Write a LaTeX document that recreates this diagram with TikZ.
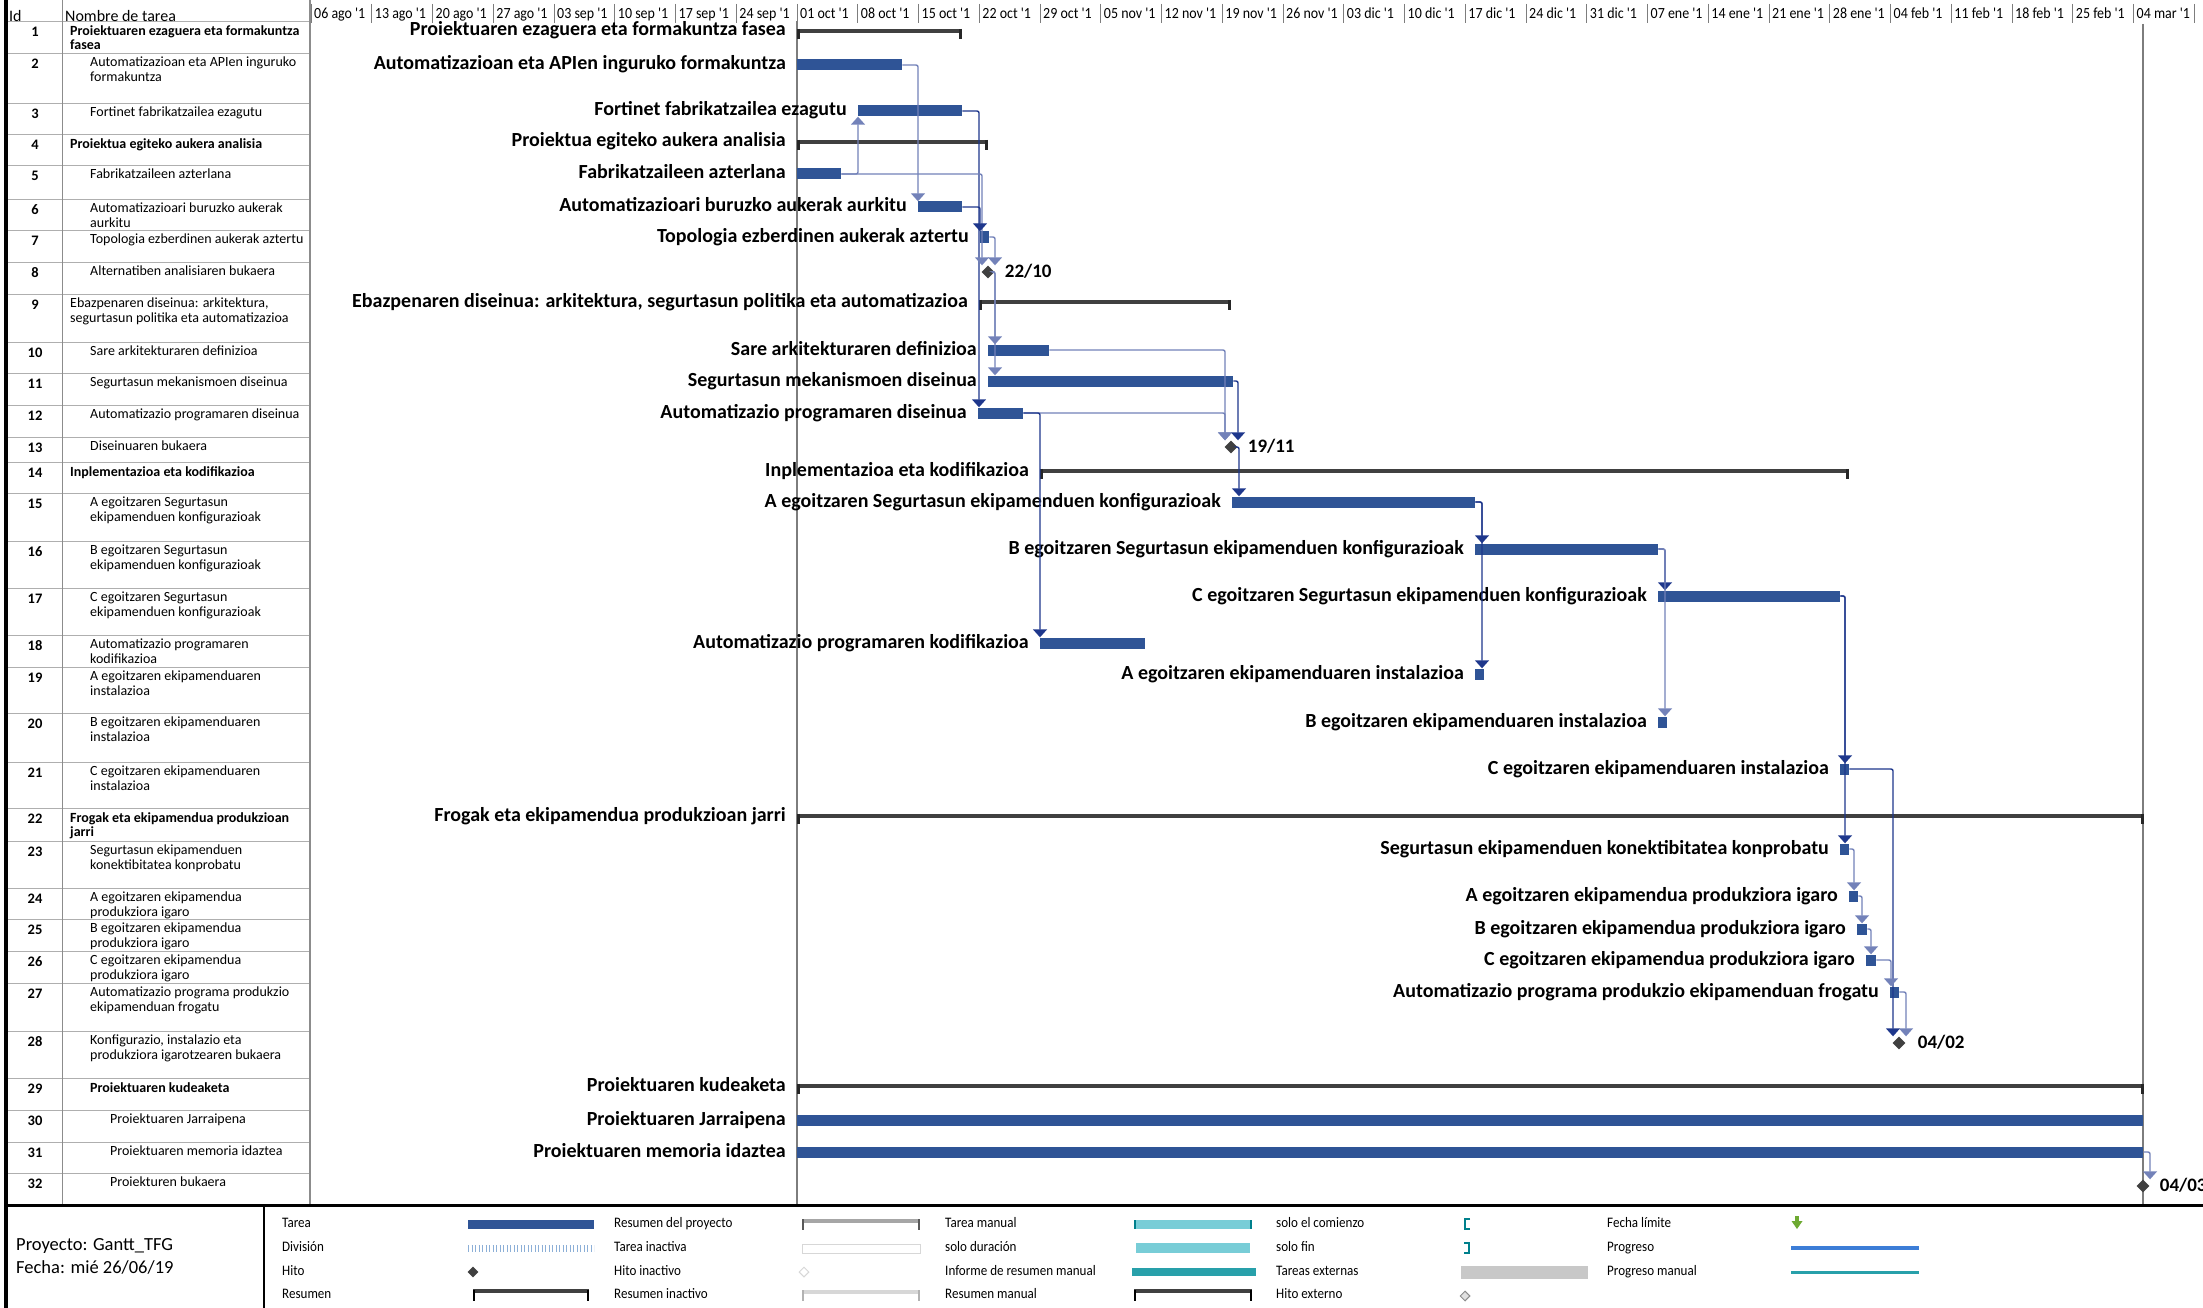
\documentclass[tikz,border=0pt]{standalone}
\usepackage{fontspec}
\setmainfont{Carlito}
\newfontfamily\narrowfont[FakeStretch=0.9]{Carlito}
\usetikzlibrary{shapes.geometric,arrows.meta}

\definecolor{taskblue}{RGB}{47,84,150}
\definecolor{linkdark}{RGB}{30,55,140}
\definecolor{linklight}{RGB}{115,130,185}
\definecolor{summgray}{RGB}{64,64,64}
\definecolor{gridgray}{RGB}{175,175,175}
\definecolor{linegray}{RGB}{125,125,125}
\definecolor{divblue}{RGB}{140,175,215}
\definecolor{lightteal}{RGB}{120,205,215}
\definecolor{darkteal}{RGB}{0,128,140}
\definecolor{midteal}{RGB}{40,160,170}
\definecolor{extgray}{RGB}{200,200,200}
\definecolor{inactgray}{RGB}{215,215,215}
\definecolor{deadgreen}{RGB}{110,170,50}
\definecolor{progblue}{RGB}{60,125,215}

% task bar: name, start x, end x, centre y
\newcommand\taskbar[4]{\node[bar, minimum width={#3-#2}] (#1) at (#2,#4) {};}
% summary bracket: name, start x, end x, centre y
\newcommand\summbar[4]{%
  \node[summ, minimum width={#3-#2}] (#1) at (#2,#4) {};
  \draw[summtick] (#1.north west) ++(1.5,0) -- ++(0,10);
  \draw[summtick] (#1.north east) ++(-1.5,0) -- ++(0,10);}
% bar caption: row, bar start x, centre y, text
\newcommand\glabel[4]{\node[lbl] (l#1) at (#2-11,#3) {#4};}
% table row: id, top y, indent x, extra style, text
\newcommand\trow[5]{%
  \node[idtxt] (n#1) at (35,#2+11) {#1};
  \node[rowtxt,#4] (t#1) at (#3,#2+4) {#5};}

\begin{document}
\begin{tikzpicture}[x=1pt,y=-1pt,
  bar/.style={fill=taskblue, draw=none, inner sep=0pt, minimum height=11pt, anchor=west},
  summ/.style={fill=summgray, draw=none, inner sep=0pt, minimum height=4pt, anchor=west},
  summtick/.style={draw=black!85, line width=3pt},
  mile/.style={diamond, fill=summgray, draw=none, inner sep=0pt, minimum size=13pt},
  lbl/.style={font=\bfseries\fontsize{20}{22}\selectfont, anchor=east, inner sep=0pt, text height=14pt, text depth=4pt},
  mlbl/.style={font=\bfseries\fontsize{19}{22}\selectfont, anchor=west, inner sep=0pt, text height=14pt, text depth=4pt},
  link/.style={draw=linkdark, line width=1.4pt, rounded corners=2pt, -{Triangle[width=14pt,length=8pt]}},
  linkl/.style={link, draw=linklight},
  idtxt/.style={font=\bfseries\fontsize{14.5}{15}\selectfont, inner sep=0pt},
  rowtxt/.style={font=\fontsize{14}{14.5}\selectfont, anchor=north west, align=left, inner sep=0pt},
  strong/.style={font=\bfseries\fontsize{14}{14.5}\selectfont},
  hdr/.style={font=\narrowfont\fontsize{15.5}{16}\selectfont, anchor=west, inner sep=0pt, text height=11pt, text depth=3pt},
  colhdr/.style={font=\fontsize{16}{17}\selectfont, anchor=west, inner sep=0pt},
  leg/.style={font=\narrowfont\fontsize{14.5}{15}\selectfont, anchor=west, inner sep=0pt, text height=10pt, text depth=3pt},
  foot/.style={font=\fontsize{18.5}{19}\selectfont, anchor=west, inner sep=0pt},
]
\useasboundingbox (0,0) rectangle (2203,1308);
\fill[white] (0,0) rectangle (2203,1308);

% ---------- timescale ----------
\foreach \lab [count=\i from 0] in {06 ago,13 ago,20 ago,27 ago,03 sep,10 sep,17 sep,24 sep,01 oct,08 oct,15 oct,22 oct,29 oct,05 nov,12 nov,19 nov,26 nov,03 dic,10 dic,17 dic,24 dic,31 dic,07 ene,14 ene,21 ene,28 ene,04 feb,11 feb,18 feb,25 feb,04 mar}{
  \node[hdr] (w\i) at ({314+60.75*\i},15) {\lab\ '1};
  \draw[linegray, line width=0.8pt] ({311+60.75*\i},4) -- ({311+60.75*\i},23);
}
\draw[linegray, line width=0.8pt] (2194.25,4) -- (2194.25,23);

% ---------- task table ----------
\foreach \y in {21,53,103,134,165,199,230,262,294,342,373,405,437,462,493,541,588,635,667,713,762,808,841,888,919,951,983,1031,1078,1110,1142,1173,1205}
  \draw[gridgray, line width=0.8pt] (8,\y) -- (310,\y);
\draw[gridgray!80!black, line width=1pt] (62,0) -- (62,1205);
\draw[gridgray!80!black, line width=1.2pt] (310,0) -- (310,1205);
\node[colhdr] (hid) at (9,16) {Id};
\node[colhdr] (hname) at (65,16) {Nombre de tarea};

\trow{1}{21}{70}{strong}{Proiektuaren ezaguera eta formakuntza\\fasea}
\trow{2}{53}{90}{}{Automatizazioan eta APIen inguruko\\formakuntza}
\trow{3}{103}{90}{}{Fortinet fabrikatzailea ezagutu}
\trow{4}{134}{70}{strong}{Proiektua egiteko aukera analisia}
\trow{5}{165}{90}{}{Fabrikatzaileen azterlana}
\trow{6}{199}{90}{}{Automatizazioari buruzko aukerak\\aurkitu}
\trow{7}{230}{90}{}{Topologia ezberdinen aukerak aztertu}
\trow{8}{262}{90}{}{Alternatiben analisiaren bukaera}
\trow{9}{294}{70}{}{Ebazpenaren diseinua: arkitektura,\\segurtasun politika eta automatizazioa}
\trow{10}{342}{90}{}{Sare arkitekturaren definizioa}
\trow{11}{373}{90}{}{Segurtasun mekanismoen diseinua}
\trow{12}{405}{90}{}{Automatizazio programaren diseinua}
\trow{13}{437}{90}{}{Diseinuaren bukaera}
\trow{14}{462}{70}{strong}{Inplementazioa eta kodifikazioa}
\trow{15}{493}{90}{}{A egoitzaren Segurtasun\\ekipamenduen konfigurazioak}
\trow{16}{541}{90}{}{B egoitzaren Segurtasun\\ekipamenduen konfigurazioak}
\trow{17}{588}{90}{}{C egoitzaren Segurtasun\\ekipamenduen konfigurazioak}
\trow{18}{635}{90}{}{Automatizazio programaren\\kodifikazioa}
\trow{19}{667}{90}{}{A egoitzaren ekipamenduaren\\instalazioa}
\trow{20}{713}{90}{}{B egoitzaren ekipamenduaren\\instalazioa}
\trow{21}{762}{90}{}{C egoitzaren ekipamenduaren\\instalazioa}
\trow{22}{808}{70}{strong}{Frogak eta ekipamendua produkzioan\\jarri}
\trow{23}{841}{90}{}{Segurtasun ekipamenduen\\konektibitatea konprobatu}
\trow{24}{888}{90}{}{A egoitzaren ekipamendua\\produkziora igaro}
\trow{25}{919}{90}{}{B egoitzaren ekipamendua\\produkziora igaro}
\trow{26}{951}{90}{}{C egoitzaren ekipamendua\\produkziora igaro}
\trow{27}{983}{90}{}{Automatizazio programa produkzio\\ekipamenduan frogatu}
\trow{28}{1031}{90}{}{Konfigurazio, instalazio eta\\produkziora igarotzearen bukaera}
\trow{29}{1078}{90}{strong}{Proiektuaren kudeaketa}
\trow{30}{1110}{110}{}{Proiektuaren Jarraipena}
\trow{31}{1142}{110}{}{Proiektuaren memoria idaztea}
\trow{32}{1173}{110}{}{Proiekturen bukaera}

% ---------- status lines ----------
\draw[linegray, line width=1.2pt] (797,21) -- (797,1205);
\draw[linegray, line width=1.2pt] (2143,24) -- (2143,1205);

% ---------- summaries ----------
\summbar{s1}{797}{962}{31}
\summbar{s4}{797}{988}{142}
\summbar{s9}{979}{1231}{302}
\summbar{s14}{1040}{1849}{471}
\summbar{s22}{797}{2144}{816}
\summbar{s29}{797}{2144}{1086}

% ---------- tasks ----------
\taskbar{b2}{797}{902}{65}
\taskbar{b3}{858}{962}{111}
\taskbar{b5}{797}{841}{174}
\taskbar{b6}{918}{962}{207}
\taskbar{b7}{980}{989}{237}
\taskbar{b10}{988}{1049}{350}
\taskbar{b11}{988}{1233}{381}
\taskbar{b12}{978}{1023}{413}
\taskbar{b15}{1232}{1475}{502}
\taskbar{b16}{1475}{1658}{549}
\taskbar{b17}{1658}{1840}{596}
\taskbar{b18}{1040}{1145}{643}
\taskbar{b19}{1475}{1484}{674}
\taskbar{b20}{1658}{1667}{722}
\taskbar{b21}{1840}{1849}{769}
\taskbar{b23}{1840}{1849}{849}
\taskbar{b24}{1849}{1858}{896}
\taskbar{b25}{1857}{1867}{929}
\taskbar{b26}{1866}{1876}{960}
\taskbar{b27}{1890}{1899}{992}
\taskbar{b30}{797}{2143}{1120}
\taskbar{b31}{797}{2143}{1152}

% ---------- milestones ----------
\node[mile] (m8) at (988,272) {};
\node[mile] (m13) at (1231,447) {};
\node[mile] (m28) at (1899,1043) {};
\node[mile] (m32) at (2143,1186) {};
\node[mlbl] (d8) at ([xshift=10pt]m8.east) {22/10};
\node[mlbl] (d13) at ([xshift=10pt]m13.east) {19/11};
\node[mlbl] (d28) at ([xshift=12pt]m28.east) {04/02};
\node[mlbl] (d32) at ([xshift=10pt]m32.east) {04/03};

% ---------- captions ----------
\glabel{1}{797}{31}{Proiektuaren ezaguera eta formakuntza fasea}
\glabel{2}{797}{65}{Automatizazioan eta APIen inguruko formakuntza}
\glabel{3}{858}{111}{Fortinet fabrikatzailea ezagutu}
\glabel{4}{797}{142}{Proiektua egiteko aukera analisia}
\glabel{5}{797}{174}{Fabrikatzaileen azterlana}
\glabel{6}{918}{207}{Automatizazioari buruzko aukerak aurkitu}
\glabel{7}{980}{237}{Topologia ezberdinen aukerak aztertu}
\glabel{9}{979}{302}{Ebazpenaren diseinua: arkitektura, segurtasun politika eta automatizazioa}
\glabel{10}{988}{350}{Sare arkitekturaren definizioa}
\glabel{11}{988}{381}{Segurtasun mekanismoen diseinua}
\glabel{12}{978}{413}{Automatizazio programaren diseinua}
\glabel{14}{1040}{471}{Inplementazioa eta kodifikazioa}
\glabel{15}{1232}{502}{A egoitzaren Segurtasun ekipamenduen konfigurazioak}
\glabel{16}{1475}{549}{B egoitzaren Segurtasun ekipamenduen konfigurazioak}
\glabel{17}{1658}{596}{C egoitzaren Segurtasun ekipamenduen konfigurazioak}
\glabel{18}{1040}{643}{Automatizazio programaren kodifikazioa}
\glabel{19}{1475}{674}{A egoitzaren ekipamenduaren instalazioa}
\glabel{20}{1658}{722}{B egoitzaren ekipamenduaren instalazioa}
\glabel{21}{1840}{769}{C egoitzaren ekipamenduaren instalazioa}
\glabel{22}{797}{816}{Frogak eta ekipamendua produkzioan jarri}
\glabel{23}{1840}{849}{Segurtasun ekipamenduen konektibitatea konprobatu}
\glabel{24}{1849}{896}{A egoitzaren ekipamendua produkziora igaro}
\glabel{25}{1857}{929}{B egoitzaren ekipamendua produkziora igaro}
\glabel{26}{1866}{960}{C egoitzaren ekipamendua produkziora igaro}
\glabel{27}{1890}{992}{Automatizazio programa produkzio ekipamenduan frogatu}
\glabel{29}{797}{1086}{Proiektuaren kudeaketa}
\glabel{30}{797}{1120}{Proiektuaren Jarraipena}
\glabel{31}{797}{1152}{Proiektuaren memoria idaztea}

% ---------- dependency links ----------
\draw[linkl] (b2.east) -| (b6.north west);
\draw[linkl] (b5.east) -| (b3.south west);
\draw[link]  (b3.east) -| ([xshift=1pt]b12.north west);
\draw[linkl] (b5.east) -| ([xshift=-6pt]m8.north);
\draw[link]  (b6.east) -| (b7.north west);
\draw[linkl] (b7.east) -| ([xshift=7pt]m8.north);
\draw[linkl] (m8.east) -| ([xshift=7pt]b10.north west);
\draw[linkl] (m8.east) -| ([xshift=7pt]b11.north west);
\draw[linkl] (b10.east) -| ([xshift=-6pt]m13.north);
\draw[link]  (b11.east) -| ([xshift=7pt]m13.north);
\draw[linkl] (b12.east) -| ([xshift=-6pt]m13.north);
\draw[link]  (b12.east) -| (b18.north west);
\draw[link]  (m13.east) -| ([xshift=7pt]b15.north west);
\draw[link]  (b15.east) -| ([xshift=7pt]b16.north west);
\draw[link]  (b15.east) -| ([xshift=7pt]b19.north west);
\draw[link]  (b16.east) -| ([xshift=7pt]b17.north west);
\draw[linkl] (b16.east) -| ([xshift=7pt]b20.north west);
\draw[link]  (b17.east) -| ([xshift=5pt]b21.north west);
\draw[link]  (b17.east) -| ([xshift=5pt]b23.north west);
\draw[link]  (b21.east) -| ([xshift=-6pt]m28.north);
\draw[linkl] (b23.east) -| ([xshift=5pt]b24.north west);
\draw[linkl] (b24.east) -| ([xshift=5pt]b25.north west);
\draw[linkl] (b25.east) -| ([xshift=5pt]b26.north west);
\draw[linkl] (b26.east) -| ([xshift=1pt]b27.north west);
\draw[linkl] (b27.east) -| ([xshift=7pt]m28.north);
\draw[linkl] (b31.east) -| ([xshift=7pt]m32.north);

% ---------- footer frame ----------
\draw[black, line width=4pt] (6,0) -- (6,1308);
\draw[black, line width=3pt] (6,1205) -- (2203,1205);
\draw[black, line width=2pt] (264,1205) -- (264,1308);
\node[foot] (proj) at (16,1246) {Proyecto: Gantt\_TFG};
\node[foot] (fecha) at (16,1267) {Fecha: mié 26/06/19};

% ---------- legend ----------
\node[leg] (g1) at (282,1224) {Tarea};
\node[leg] (g2) at (282,1248) {División};
\node[leg] (g3) at (282,1272) {Hito};
\node[leg] (g4) at (282,1295) {Resumen};
\node[leg] (g5) at (614,1224) {Resumen del proyecto};
\node[leg] (g6) at (614,1248) {Tarea inactiva};
\node[leg] (g7) at (614,1272) {Hito inactivo};
\node[leg] (g8) at (614,1295) {Resumen inactivo};
\node[leg] (g9) at (945,1224) {Tarea manual};
\node[leg] (g10) at (945,1248) {solo duración};
\node[leg] (g11) at (945,1272) {Informe de resumen manual};
\node[leg] (g12) at (945,1295) {Resumen manual};
\node[leg] (g13) at (1276,1224) {solo el comienzo};
\node[leg] (g14) at (1276,1248) {solo fin};
\node[leg] (g15) at (1276,1272) {Tareas externas};
\node[leg] (g16) at (1276,1295) {Hito externo};
\node[leg] (g17) at (1607,1224) {Fecha límite};
\node[leg] (g18) at (1607,1248) {Progreso};
\node[leg] (g19) at (1607,1272) {Progreso manual};

% legend symbols, column 1
\fill[taskblue] (468,1220) rectangle (594,1229);
\draw[divblue, line width=7pt, dash pattern=on 1.2pt off 2.3pt] (468,1248) -- (594,1248);
\node[mile, minimum size=11pt] (gh) at (473,1272) {};
\draw[summgray, line width=3.5pt] (473,1291) -- (589,1291);
\draw[black, line width=2.5pt] (474,1289.5) -- (474,1301) (588,1289.5) -- (588,1301);
% column 2
\draw[black!35, line width=4pt] (802,1221) -- (920,1221);
\draw[black!65, line width=2pt] (803,1219) -- (803,1230) (919,1219) -- (919,1230);
\draw[inactgray, fill=white, line width=1pt] (802,1244) rectangle (920,1253);
\node[diamond, draw=inactgray, fill=white, line width=1pt, inner sep=0pt, minimum size=10pt] (ghi) at (804,1272) {};
\draw[inactgray, line width=4pt] (802,1292) -- (920,1292);
\draw[black!30, line width=2pt] (803,1290) -- (803,1301) (919,1290) -- (919,1301);
% column 3
\fill[lightteal] (1134,1220) rectangle (1252,1229);
\draw[darkteal, line width=2pt] (1135,1220) -- (1135,1229) (1251,1220) -- (1251,1229);
\fill[lightteal] (1136,1243) rectangle (1250,1253);
\fill[midteal] (1132,1268) rectangle (1256,1276);
\draw[summgray, line width=3.5pt] (1134,1291) -- (1252,1291);
\draw[black, line width=2.5pt] (1135,1289.5) -- (1135,1301) (1251,1289.5) -- (1251,1301);
% column 4
\draw[darkteal, line width=1.8pt] (1470,1219) -- (1465,1219) -- (1465,1229) -- (1470,1229);
\draw[darkteal, line width=1.8pt] (1464,1243) -- (1469,1243) -- (1469,1253) -- (1464,1253);
\fill[extgray] (1461,1266) rectangle (1588,1279);
\node[diamond, draw=black!45, fill=black!12, line width=1pt, inner sep=0pt, minimum size=10pt] (ghe) at (1465,1296) {};
% column 5
\fill[deadgreen] (1795,1216) rectangle (1799,1222);
\fill[deadgreen] (1791.5,1221) -- (1802.5,1221) -- (1797,1229) -- cycle;
\draw[progblue, line width=4pt] (1791,1248) -- (1919,1248);
\draw[midteal, line width=3pt] (1791,1272) -- (1919,1272);
\end{tikzpicture}
\end{document}
